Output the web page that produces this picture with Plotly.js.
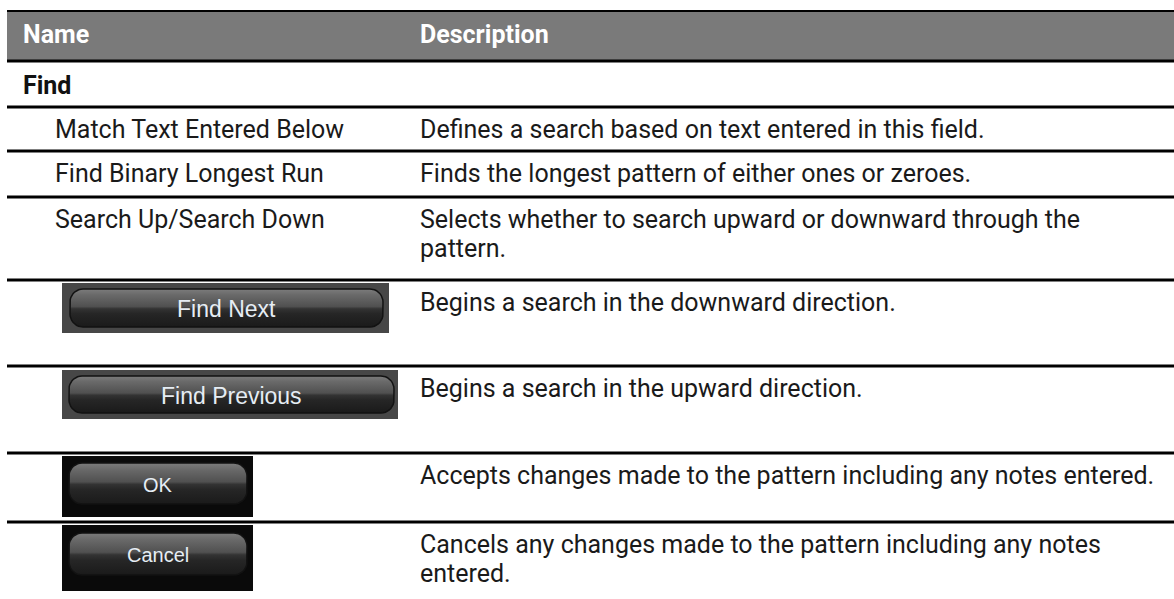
<!DOCTYPE html>
<html>
<head>
<meta charset="utf-8">
<script src="https://cdn.plot.ly/plotly-3.0.1.min.js"></script>
<style>
  html, body { margin: 0; padding: 0; background: #ffffff; }
  #chart { width: 1174px; height: 599px; }
</style>
</head>
<body>
<div id="chart"></div>
<script>
// ---------------- DATA ----------------
const headerLabels = ["Name", "Description"];
const sectionTitle = "Find";
const rowNames = [
  "Match Text Entered Below",
  "Find Binary Longest Run",
  "Search Up/Search Down",
  "Find Next",
  "Find Previous",
  "OK",
  "Cancel"
];
const rowIsButton = [false, false, false, true, true, true, true];
const rowDescriptions = [
  ["Defines a search based on text entered in this field."],
  ["Finds the longest pattern of either ones or zeroes."],
  ["Selects whether to search upward or downward through the", "pattern."],
  ["Begins a search in the downward direction."],
  ["Begins a search in the upward direction."],
  ["Accepts changes made to the pattern including any notes entered."],
  ["Cancels any changes made to the pattern including any notes", "entered."]
];

// ---------------- LAYOUT GEOMETRY (pixels) ----------------
const W = 1174, H = 599;
const tableLeft = 7, tableRight = 1174;
const headerTop = 11, headerBottom = 61;
const sectionBottom = 107;
const rowBottoms = [151, 197, 280, 366, 453, 522, 599];
const nameX = 22, indentX = 54, descX = 419;
const textSize = 25;
const baseFont = "Roboto, 'Noto Sans', sans-serif";
const btnFont = "'Liberation Sans', Arial, sans-serif";

const buttonGeom = {
  3: {outer: [62, 389, 283, 333], inner: [70, 383, 289, 327], outerColor: "#474747", fs: 23},
  4: {outer: [62, 398, 370, 419], inner: [69, 394, 376, 413], outerColor: "#474747", fs: 23},
  5: {outer: [62, 253, 456, 517], inner: [69, 247, 463, 504], outerColor: "#0a0a0a", fs: 20},
  6: {outer: [62, 253, 525, 591], inner: [69, 247, 533, 575], outerColor: "#0a0a0a", fs: 20}
};

const shapes = [];
const annotations = [];
const traces = [];

function hline(y, w) {
  shapes.push({type: "line", xref: "x", yref: "y", x0: tableLeft, x1: tableRight, y0: y, y1: y,
               line: {color: "#000000", width: w || 2}});
}
function label(x, y, text, opts) {
  opts = opts || {};
  annotations.push({
    xref: "x", yref: "y", x: x, y: y, text: text, showarrow: false,
    xanchor: opts.xanchor || "left", yanchor: "middle", borderpad: 0,
    font: {family: opts.family || baseFont, size: opts.size || textSize, color: opts.color || "#1a1a1a",
           weight: opts.weight || 400}
  });
}

shapes.push({type: "rect", xref: "x", yref: "y", x0: tableLeft, x1: tableRight, y0: headerTop, y1: headerBottom,
             fillcolor: "#7a7a7a", line: {width: 0}, layer: "below"});
hline(headerTop, 2);
hline(headerBottom, 3);
label(nameX, 34, "<b>" + headerLabels[0] + "</b>", {color: "#ffffff"});
label(descX, 34, "<b>" + headerLabels[1] + "</b>", {color: "#ffffff"});

label(nameX, 85, "<b>" + sectionTitle + "</b>", {color: "#111111"});
hline(sectionBottom, 3);

function pill(x0, x1, y0, y1, r) {
  const xs = [], ys = [];
  const corners = [
    [x1 - r, y0 + r, -90, 0],
    [x1 - r, y1 - r, 0, 90],
    [x0 + r, y1 - r, 90, 180],
    [x0 + r, y0 + r, 180, 270]
  ];
  corners.forEach(c => {
    for (let a = c[2]; a <= c[3]; a += 10) {
      const t = a * Math.PI / 180;
      xs.push(c[0] + r * Math.cos(t));
      ys.push(c[1] + r * Math.sin(t));
    }
  });
  xs.push(xs[0]); ys.push(ys[0]);
  return {xs, ys};
}

let rowTop = sectionBottom;
rowNames.forEach((name, i) => {
  const bottom = rowBottoms[i];
  if (rowIsButton[i]) {
    const g = buttonGeom[i];
    const o = g.outer, n = g.inner;
    shapes.push({type: "rect", xref: "x", yref: "y", x0: o[0], x1: o[1], y0: o[2], y1: o[3],
                 fillcolor: g.outerColor, line: {width: 0}, layer: "below"});
    const p = pill(n[0], n[1], n[2], n[3], Math.min(13, (n[3] - n[2]) / 2.6));
    traces.push({
      type: "scatter", mode: "lines", x: p.xs, y: p.ys, fill: "toself",
      line: {color: "#121212", width: 1.5}, hoverinfo: "skip", showlegend: false,
      fillgradient: {type: "vertical", start: n[2], stop: n[3],
        colorscale: [[0, "#7c7c7c"], [0.15, "#6a6a6a"], [0.46, "#505050"], [0.52, "#333333"], [0.65, "#262626"], [1, "#1a1a1a"]]}
    });
    label((n[0] + n[1]) / 2, (n[2] + n[3]) / 2 + 1, name,
          {xanchor: "center", family: btnFont, size: g.fs, color: "#e6edf4"});
  } else {
    label(indentX, rowTop + 22, name);
  }
  rowDescriptions[i].forEach((line, k) => {
    label(descX, rowTop + 22 + k * 29, line);
  });
  if (bottom < H) hline(bottom, 3);
  rowTop = bottom;
});

const layout = {
  width: W, height: H,
  margin: {l: 0, r: 0, t: 0, b: 0},
  paper_bgcolor: "#ffffff", plot_bgcolor: "#ffffff",
  xaxis: {range: [0, W], visible: false, fixedrange: true},
  yaxis: {range: [H, 0], visible: false, fixedrange: true},
  shapes: shapes,
  annotations: annotations,
  showlegend: false
};

Plotly.newPlot("chart", traces, layout, {displayModeBar: false, staticPlot: true});
</script>
</body>
</html>
